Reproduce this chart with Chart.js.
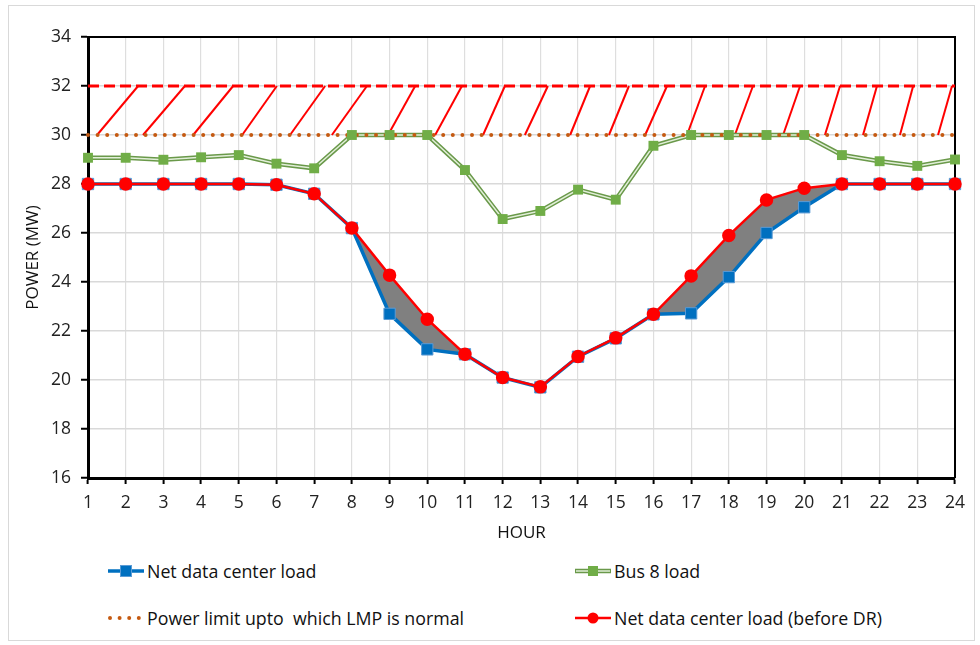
<!DOCTYPE html>
<html>
<head>
<meta charset="utf-8">
<script src="https://cdn.jsdelivr.net/npm/chart.js@4.4.0/dist/chart.umd.min.js"></script>
<style>
  body { margin: 0; width: 980px; height: 645px; background: #fff; position: relative; overflow: hidden; font-family: "Open Sans", sans-serif; }
  #frame { position: absolute; left: 8px; top: 5px; width: 967px; height: 636px; border: 1px solid #d9d9d9; box-sizing: border-box; }
  #wrap { position: absolute; left: 0; top: 0; width: 980px; height: 550px; }
  .item { position: absolute; height: 24px; display: flex; align-items: center; font-size: 17.8px; color: #111; white-space: nowrap; }
  .item svg { margin-right: 3px; }
</style>
</head>
<body>
<div id="frame"></div>
<div id="wrap"><canvas id="powerChart"></canvas></div>

<div class="item" style="left:108px; top:559px">
  <svg width="36" height="14"><line x1="0" y1="7" x2="36" y2="7" stroke="#0070c0" stroke-width="3.5"/><rect x="12.5" y="1.5" width="11" height="11" fill="#0070c0" stroke="#5b9bd5" stroke-width="1"/></svg>Net data center load
</div>
<div class="item" style="left:575px; top:559px">
  <svg width="36" height="14"><line x1="0" y1="7" x2="36" y2="7" stroke="#6a994a" stroke-width="4.5"/><line x1="1" y1="7" x2="35" y2="7" stroke="#e2efd9" stroke-width="1.5"/><rect x="13" y="2" width="10" height="10" fill="#70ad47"/></svg>Bus 8 load
</div>
<div class="item" style="left:108px; top:606px">
  <svg width="36" height="14"><line x1="2" y1="7" x2="34" y2="7" stroke="#c55a11" stroke-width="4" stroke-linecap="round" stroke-dasharray="0 9.6"/></svg>Power limit upto&nbsp; which LMP is normal
</div>
<div class="item" style="left:575px; top:606px">
  <svg width="36" height="14"><line x1="0" y1="7" x2="36" y2="7" stroke="#ff0000" stroke-width="2.5"/><circle cx="18" cy="7" r="5.5" fill="#ff0000"/></svg>Net data center load (before DR)
</div>

<script>
// hours of the day
const hours = [1, 2, 3, 4, 5, 6, 7, 8, 9, 10, 11, 12, 13, 14, 15, 16, 17, 18, 19, 20, 21, 22, 23, 24]

// MW
const netLoad = [28, 28, 28, 28, 28, 27.97, 27.6, 26.2, 22.7, 21.25, 21.05, 20.1, 19.7, 20.95, 21.7, 22.68, 22.72, 24.2, 26.0, 27.05, 28, 28, 28, 28]
const netLoadBeforeDR = [28, 28, 28, 28, 28, 27.97, 27.6, 26.2, 24.28, 22.48, 21.05, 20.1, 19.72, 20.96, 21.72, 22.68, 24.25, 25.9, 27.35, 27.83, 28, 28, 28, 28]
const bus8Load = [29.07, 29.07, 28.99, 29.09, 29.18, 28.83, 28.64, 30, 30, 30, 28.57, 26.57, 26.9, 27.77, 27.36, 29.56, 30, 30, 30, 30, 29.18, 28.93, 28.74, 29.0]

// LMP band
const lmpNormal = 30
const lmpHigh = 32
// hatch strokes in the band: hour at 30 MW -> hour at 32 MW
const hatchFrom = [1.24, 2.46, 3.79, 5.09, 6.36, 7.47, 8.96, 10.21, 11.48, 12.59, 13.79, 14.82, 15.78, 16.89, 18.16, 19.44, 20.55, 21.56, 22.54, 23.55]
const hatchTo = [2.33, 3.57, 4.85, 6.01, 7.29, 8.40, 9.68, 10.92, 12.06, 13.20, 14.32, 15.35, 16.36, 17.37, 18.64, 19.89, 20.95, 21.93, 22.89, 23.92]

const yTicks = [16, 34, 2]

const pts = vals => hours.map((h, i) => ({x: h, y: vals[i]}))
const flat = v => hours.map(h => ({x: h, y: v}))

const bandPlugin = {
    id: "band",
    beforeDatasetsDraw(chart) {
        const {ctx, chartArea, scales: {x, y}} = chart
        ctx.save()
        // top + right frame of the plot
        ctx.strokeStyle = "#000"
        ctx.lineWidth = 2
        ctx.beginPath()
        ctx.moveTo(chartArea.left, chartArea.top)
        ctx.lineTo(chartArea.right, chartArea.top)
        ctx.lineTo(chartArea.right, chartArea.bottom)
        ctx.stroke()
        // hatch
        ctx.strokeStyle = "#ff0000"
        ctx.lineWidth = 2
        hatchFrom.forEach((h, i) => {
            ctx.beginPath()
            ctx.moveTo(x.getPixelForValue(h), y.getPixelForValue(lmpNormal))
            ctx.lineTo(x.getPixelForValue(hatchTo[i]), y.getPixelForValue(lmpHigh))
            ctx.stroke()
        })
        ctx.restore()
    }
}

const font = {family: "Open Sans", size: 17.5}
const titleFont = {family: "Open Sans", size: 17}

new Chart("powerChart", {
    type: "line",
    data: {
        datasets: [
            {
                label: "Net data center load",
                data: pts(netLoad),
                borderColor: "#0070c0",
                borderWidth: 3.5,
                pointStyle: "rect",
                pointRadius: 8,
                pointBackgroundColor: "#0070c0",
                pointBorderColor: "#5b9bd5",
                pointBorderWidth: 1,
                order: 2
            },
            {
                label: "Net data center load (before DR)",
                data: pts(netLoadBeforeDR),
                borderColor: "#ff0000",
                borderWidth: 2.5,
                pointStyle: "circle",
                pointRadius: 5.5,
                pointBackgroundColor: "#ff0000",
                pointBorderColor: "#ff0000",
                fill: {target: 0, above: "#808080", below: "rgba(0,0,0,0)"},
                order: 1
            },
            {
                label: "bus8 outer",
                data: pts(bus8Load),
                borderColor: "#6a994a",
                borderWidth: 4.5,
                pointRadius: 0,
                order: 6
            },
            {
                label: "bus8 inner",
                data: pts(bus8Load),
                borderColor: "#e2efd9",
                borderWidth: 1.5,
                pointRadius: 0,
                order: 5
            },
            {
                label: "Power limit upto  which LMP is normal",
                data: flat(lmpNormal),
                borderColor: "#c55a11",
                borderWidth: 4,
                borderDash: [0, 9.6],
                borderCapStyle: "round",
                pointRadius: 0,
                order: 4
            },
            {
                label: "Bus 8 load",
                data: pts(bus8Load),
                showLine: false,
                pointStyle: "rect",
                pointRadius: 7,
                pointBackgroundColor: "#70ad47",
                pointBorderColor: "#70ad47",
                pointBorderWidth: 0,
                order: 3
            },
            {
                label: "high LMP",
                data: flat(lmpHigh),
                borderColor: "#ff0000",
                borderWidth: 3,
                borderDash: [11, 5],
                pointRadius: 0,
                order: 7
            }
        ]
    },
    options: {
        responsive: true,
        maintainAspectRatio: false,
        animation: false,
        layout: {padding: {left: 0, right: 25, top: 37, bottom: 0}},
        datasets: {line: {clip: false, tension: 0}},
        plugins: {
            legend: {display: false},
            tooltip: {enabled: false},
            filler: {drawTime: "beforeDatasetsDraw"}
        },
        scales: {
            x: {
                type: "linear",
                min: hours[0],
                max: hours[hours.length - 1],
                afterFit: scale => { scale.height = 72 },
                ticks: {stepSize: 1, color: "#222", font: font, padding: 9, maxRotation: 0, autoSkip: false},
                grid: {color: "#dedede", lineWidth: 1.2, borderDash: [6, 4], tickBorderDash: [], tickColor: "#000", tickWidth: 2, tickLength: 6},
                border: {color: "#000", width: 3},
                title: {display: true, text: "HOUR", color: "#111", font: titleFont, padding: {top: 0, bottom: 7}}
            },
            y: {
                min: yTicks[0],
                max: yTicks[1],
                afterFit: scale => { scale.width = 88 },
                ticks: {stepSize: yTicks[2], color: "#222", font: font, padding: 10},
                grid: {color: "#d9d9d9", lineWidth: 1.5, tickColor: "#000", tickWidth: 2, tickLength: 7},
                border: {color: "#000", width: 3},
                title: {display: true, text: "POWER (MW)", color: "#111", font: titleFont, padding: {top: 23, bottom: 0}}
            }
        }
    },
    plugins: [bandPlugin]
})
</script>
</body>
</html>
